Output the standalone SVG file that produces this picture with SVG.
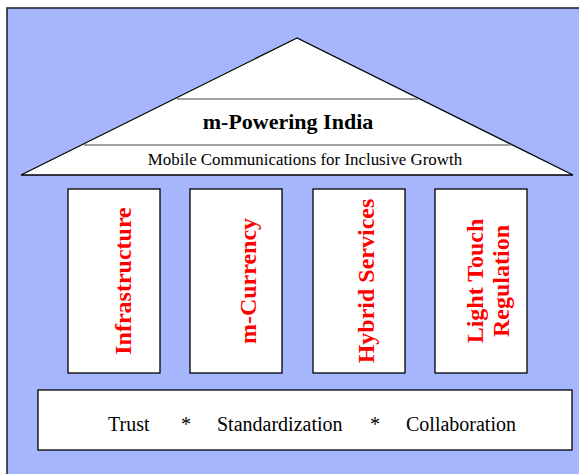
<svg xmlns="http://www.w3.org/2000/svg" width="579" height="474" viewBox="0 0 579 474">
<style>
.box{fill:#fff;stroke:#000;stroke-width:1.3}
.pillar{font-weight:bold;font-size:24px;fill:#ff0000;text-anchor:middle}
</style>
<rect x="0" y="0" width="579" height="474" fill="#ffffff"/>
<rect x="7" y="8" width="600" height="500" fill="#a6b6fd" stroke="#1a1a2a" stroke-width="1.5"/>
<g font-family="Liberation Serif, DejaVu Serif, serif">
<g id="roof">
<polygon points="297,38 21,175 573,175" class="box"/>
<line x1="177" y1="99" x2="418" y2="99" stroke="#808080" stroke-width="1.5"/>
<line x1="84" y1="145" x2="511" y2="145" stroke="#808080" stroke-width="1.5"/>
<text x="288" y="129" font-family="Liberation Serif, serif" font-size="22" font-weight="bold" text-anchor="middle">m-Powering India</text>
<text x="305" y="165" font-family="Liberation Serif, serif" font-size="16.9" text-anchor="middle">Mobile Communications for Inclusive Growth</text>
</g>
<g id="pillar1">
<rect x="68" y="189" width="92" height="184" class="box"/>
<text transform="translate(131,281) rotate(-90)" font-family="Liberation Serif, serif" class="pillar">Infrastructure</text>
</g>
<g id="pillar2">
<rect x="190" y="189" width="92" height="184" class="box"/>
<text transform="translate(256,281) rotate(-90)" font-family="Liberation Serif, serif" class="pillar">m-Currency</text>
</g>
<g id="pillar3">
<rect x="313" y="189" width="92" height="184" class="box"/>
<text transform="translate(374,281) rotate(-90)" font-family="Liberation Serif, serif" class="pillar">Hybrid Services</text>
</g>
<g id="pillar4">
<rect x="435" y="189" width="92" height="184" class="box"/>
<text transform="translate(483,281) rotate(-90)" font-family="Liberation Serif, serif" class="pillar">Light Touch</text>
<text transform="translate(509,281) rotate(-90)" font-family="Liberation Serif, serif" class="pillar">Regulation</text>
</g>
<g id="foundation" font-family="Liberation Serif, serif" font-size="20">
<rect x="38" y="390" width="534" height="60" class="box"/>
<text x="108" y="431">Trust</text>
<text x="181" y="431">*</text>
<text x="217" y="431">Standardization</text>
<text x="370" y="431">*</text>
<text x="406" y="431">Collaboration</text>
</g>
</g>
<g id="connectors"/>
</svg>
